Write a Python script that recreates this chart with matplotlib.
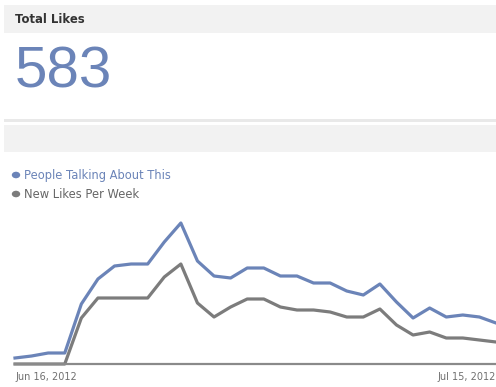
import matplotlib
matplotlib.use('Agg')
import matplotlib.pyplot as plt
from matplotlib.patches import Rectangle, Circle
import pandas as pd

W, H = 496, 387

total_likes = 583
days = pd.date_range('2012-06-16', periods=30, freq='D')
talking = [6, 8, 11, 11, 60, 85, 98, 100, 100, 122, 141, 103, 88, 86, 96,
           96, 88, 88, 81, 81, 73, 69, 80, 62, 46, 56, 47, 49, 47, 41]
new_likes = [0, 0, 0, 0, 46, 66, 66, 66, 66, 87, 100, 61, 47, 57, 65,
             65, 57, 54, 54, 52, 47, 47, 55, 39, 29, 32, 26, 26, 24, 22]
series_names = ['People Talking About This', 'New Likes Per Week']

blue = '#6b84b8'
grey = '#7c7c7c'

fig = plt.figure(figsize=(W / 100, H / 100), dpi=100)

def box(x0, y0, x1, y1, color):
    # rectangle in pixel coords measured from the top left
    fig.patches.append(Rectangle((x0 / W, 1 - y1 / H), (x1 - x0) / W, (y1 - y0) / H,
                                 transform=fig.transFigure, color=color, lw=0, zorder=0))

# header bars and separator
box(4, 5, W, 33, '#f2f2f2')
box(4, 119, W, 121.5, '#e9e9e9')
box(4, 125, W, 152, '#f2f2f2')

fig.text(15 / W, 1 - 19.5 / H, 'Total Likes', fontsize=8.4, fontweight='bold',
         color='#333333', va='center', ha='left', family='DejaVu Sans')
fig.text(15 / W, 1 - 73 / H, str(total_likes), fontsize=42, color=blue,
         va='center', ha='left', family='Liberation Sans')

# legend
for i, (name, c, tc) in enumerate(zip(series_names, [blue, grey], [blue, '#666666'])):
    y = 175 + 19 * i
    fig.patches.append(Circle((16 / W, 1 - y / H), 4.2 / W, transform=fig.transFigure,
                              color=c, lw=0))
    fig.text(24 / W, 1 - y / H, name, fontsize=8.3, color=tc, va='center', ha='left',
             family='DejaVu Sans')

ax = fig.add_axes([15 / W, (H - 364) / H, 481 / W, 164 / H])
ax.plot(days, talking, color=blue, lw=2.3, solid_joinstyle='round', clip_on=False)
ax.plot(days, new_likes, color=grey, lw=2.3, solid_joinstyle='round', clip_on=False)
ax.set_xlim(days[0], days[-1])
ax.set_ylim(0, 164)
for s in ['top', 'right', 'left']:
    ax.spines[s].set_visible(False)
ax.spines['bottom'].set_color('#8a8a8a')
ax.spines['bottom'].set_linewidth(1.6)
ax.set_yticks([])
ax.set_xticks([days[0], days[-1]])
ax.set_xticklabels([d.strftime('%b %d, %Y').replace(' 0', ' ') for d in [days[0], days[-1]]],
                   fontsize=7, color='#707070')
ax.tick_params(axis='x', length=0, pad=6)
labels = ax.get_xticklabels()
labels[0].set_ha('left')
labels[1].set_ha('right')

fig.savefig('out.png', dpi=100)
